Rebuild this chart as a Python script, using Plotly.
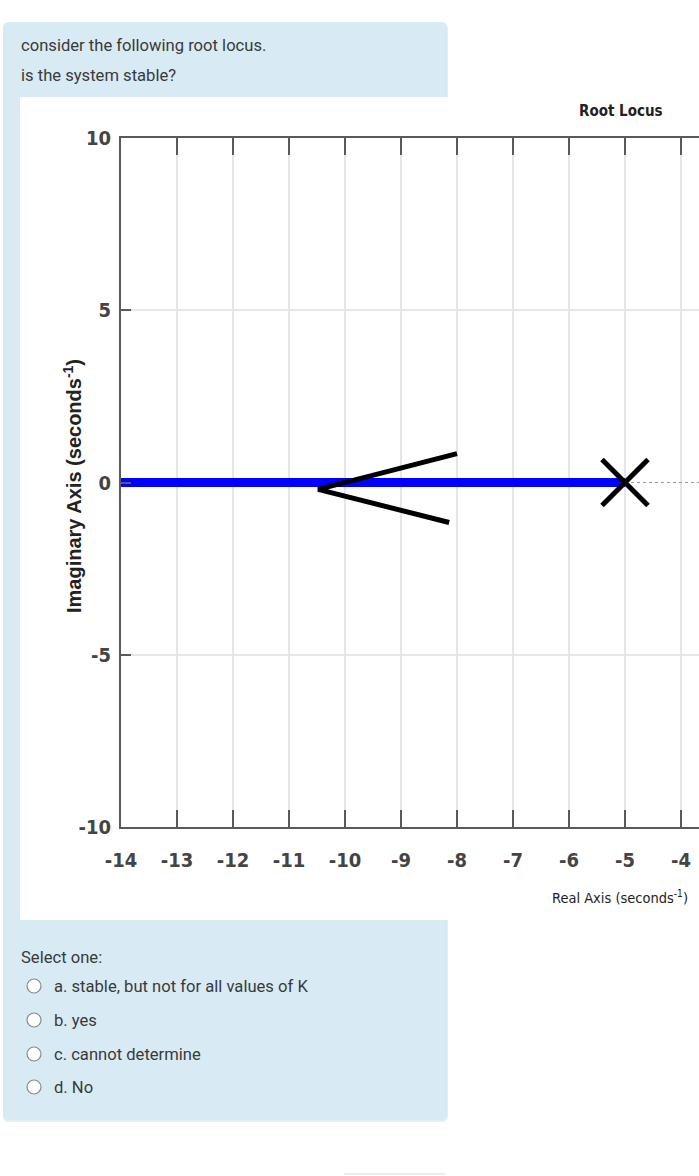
import plotly.graph_objects as go

# ---- data ----
x_ticks = [-14, -13, -12, -11, -10, -9, -8, -7, -6, -5, -4]
x_ticktext = ["-14", "-13", "-12", "-11", "-10", "-9", "-8", "-7", "-6", "-5", "-4"]
y_ticks = [-10, -5, 0, 5, 10]
y_ticktext = ["-10", "-5", "0", "5", "10"]

locus_x = [-14.0, -5.0]
locus_y = [0.0, 0.0]
pole_x = [-5.0]
pole_y = [0.0]
arrow_x = [-8.0, -10.48, -8.14]
arrow_y = [0.84, -0.2, -1.16]
dotted_x = [-5.0, -3.68]
dotted_y = [0.0, 0.0]

question_lines = ["consider the following root locus.", "is the system stable?"]
options = ["a. stable, but not for all values of K", "b. yes", "c. cannot determine", "d. No"]

W, H = 699, 1176
L, R, T, B = 121, 699, 138, 827


def px(x):
    return (x - L) / (R - L)


def py(y):
    return (B - y) / (B - T)


fig = go.Figure()

fig.add_trace(go.Scatter(x=dotted_x, y=dotted_y, mode="lines",
                         line=dict(color="#9a9a9a", width=1.2, dash="dot"),
                         hoverinfo="skip", showlegend=False))
fig.add_trace(go.Scatter(x=locus_x, y=locus_y, mode="lines",
                         line=dict(color="#0000ff", width=9),
                         hoverinfo="skip", showlegend=False))
fig.add_trace(go.Scatter(x=pole_x, y=pole_y, mode="markers",
                         marker=dict(symbol="x-thin-open", size=46, color="black",
                                     line=dict(color="black", width=5)),
                         hoverinfo="skip", showlegend=False))
fig.add_trace(go.Scatter(x=arrow_x, y=arrow_y, mode="lines",
                         line=dict(color="black", width=5),
                         hoverinfo="skip", showlegend=False))

shapes = []


def rounded_rect(x0, y0, x1, y1, r, fill):
    rx = r / (R - L)
    ry = r / (B - T)
    a, b, c, d = px(x0), py(y0), px(x1), py(y1)  # b top (higher), d bottom
    path = (f"M {a+rx},{b} L {c-rx},{b} Q {c},{b} {c},{b-ry} "
            f"L {c},{d+ry} Q {c},{d} {c-rx},{d} L {a+rx},{d} "
            f"Q {a},{d} {a},{d+ry} L {a},{b-ry} Q {a},{b} {a+rx},{b} Z")
    return dict(type="path", xref="paper", yref="paper", path=path,
                fillcolor=fill, line=dict(width=0), layer="below")


# faint shadow and blue box
shapes.append(rounded_rect(3, 23, 448, 1122, 6, "#e4eef3"))
shapes.append(rounded_rect(3, 22, 447, 1120, 6, "#d8eaf4"))
# white image region
shapes.append(dict(type="rect", xref="paper", yref="paper",
                   x0=px(20), x1=px(705), y0=py(920), y1=py(97),
                   fillcolor="white", line=dict(width=0), layer="below"))
# faint button edge at bottom
shapes.append(dict(type="line", xref="paper", yref="paper",
                   x0=px(344), x1=px(445), y0=py(1174), y1=py(1174),
                   line=dict(color="#e6e6e6", width=1.5), layer="below"))

annotations = []
qfont = dict(family="Roboto, Arial, sans-serif", size=16.6, color="#3a3a3a")
for i, t in enumerate(question_lines):
    annotations.append(dict(text=t, xref="paper", yref="paper",
                            x=px(19), y=py(45 + 31 * i), xanchor="left", yanchor="middle",
                            showarrow=False, font=qfont))
annotations.append(dict(text="Select one:", xref="paper", yref="paper",
                        x=px(19), y=py(957), xanchor="left", yanchor="middle",
                        showarrow=False, font=qfont))
opt_y = [986, 1020, 1054, 1087]
for t, yy in zip(options, opt_y):
    annotations.append(dict(text=t, xref="paper", yref="paper",
                            x=px(52), y=py(yy), xanchor="left", yanchor="middle",
                            showarrow=False, font=qfont))
    shapes.append(dict(type="circle", xref="paper", yref="paper",
                       x0=px(27), x1=px(41), y0=py(yy + 7), y1=py(yy - 7),
                       fillcolor="white", line=dict(color="#8a8a8a", width=1.2),
                       layer="above"))

narrow = "Liberation Sans Narrow, Arial Narrow, DejaVu Sans Condensed, sans-serif"
annotations.append(dict(text="Root Locus", xref="paper", yref="paper",
                        x=px(621), y=py(111), xanchor="center", yanchor="middle",
                        showarrow=False,
                        font=dict(family=narrow, size=15, color="#222", weight="bold")))
annotations.append(dict(text="Real Axis (seconds<sup>-1</sup>)", xref="paper", yref="paper",
                        x=px(690), y=py(897), xanchor="right", yanchor="middle",
                        showarrow=False,
                        font=dict(family=narrow, size=14.5, color="#222")))
annotations.append(dict(text="Imaginary Axis (seconds<sup>-1</sup>)", xref="paper", yref="paper",
                        x=px(72), y=py(486), xanchor="center", yanchor="middle",
                        textangle=-90, showarrow=False,
                        font=dict(family="Liberation Sans, Arial, sans-serif", size=20,
                                  color="#222", weight="bold")))

fig.update_layout(
    width=W, height=H,
    margin=dict(l=L, r=W - R, t=T, b=H - B, pad=0),
    paper_bgcolor="white",
    plot_bgcolor="rgba(0,0,0,0)",
    shapes=shapes,
    annotations=annotations,
    showlegend=False,
    xaxis=dict(range=[-14, -14 + (R - L) / 56.0], tickmode="array",
               tickvals=x_ticks, ticktext=x_ticktext,
               showgrid=True, gridcolor="#e6e6e6", gridwidth=1.5,
               zeroline=False, showline=True, linecolor="#5a5a5a", linewidth=2,
               mirror="ticks", ticks="inside", ticklen=17, tickwidth=2, tickcolor="#5a5a5a",
               ticklabelstandoff=14,
               tickfont=dict(family=narrow, size=20, color="#444", weight="bold"),
               fixedrange=True),
    yaxis=dict(range=[-10, 10], tickmode="array",
               tickvals=y_ticks, ticktext=y_ticktext,
               showgrid=False,
               minor=dict(tickmode="array", tickvals=[-5, 5], showgrid=True,
                          gridcolor="#e6e6e6", gridwidth=1.5, ticks=""),
               zeroline=False, showline=True, linecolor="#5a5a5a", linewidth=2,
               mirror=False, ticks="inside", ticklen=10, tickwidth=2, tickcolor="#5a5a5a",
               tickfont=dict(family=narrow, size=20, color="#444", weight="bold"),
               ticklabelstandoff=4,
               fixedrange=True),
)

fig.write_html("out.html", post_script="document.body.style.margin='0';",
               config={"displayModeBar": False})
